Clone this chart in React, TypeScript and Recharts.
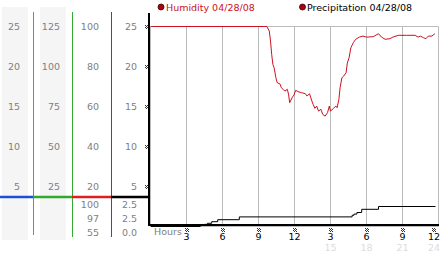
import React from 'react';
import { CartesianGrid, ComposedChart, Line, XAxis, YAxis } from 'recharts';

// humidity trace, hour of day -> %
const humHours = [
  0, 9.7, 9.9, 10.0, 10.1, 10.2, 10.3, 10.45, 10.55, 10.8, 10.9, 11.05, 11.2, 11.4, 11.5, 11.6,
  11.8, 11.95, 12.1, 12.3, 12.6, 12.9, 13.05, 13.25, 13.45, 13.55, 13.7, 13.85, 14.0, 14.2, 14.35,
  14.55, 14.75, 14.9, 15.0, 15.25, 15.45, 15.55, 15.7, 15.8, 15.95, 16.1, 16.3, 16.4, 16.55, 16.7,
  16.9, 17.1, 17.4, 17.7, 18.0, 18.55, 19.0, 19.25, 19.55, 19.95, 20.2, 20.65, 21.35, 22.05, 22.3,
  22.5, 22.75, 22.95, 23.15, 23.45, 23.7,
];
const humidity = [
  100, 100, 97.7, 92.7, 86, 81, 79.4, 74.4, 72, 71.2, 69.4, 68.6, 67.7, 68.6, 66.2, 61.9,
  64.4, 65.7, 68.1, 67.4, 66.9, 66.4, 65.2, 66.4, 62.7, 61.1, 59.1, 60.2, 57.7, 58.6, 56.1,
  55.2, 56.9, 60.2, 57.7, 59.1, 60.2, 59.4, 63.6, 69.4, 74.4, 75.2, 76.9, 81.7, 84.4, 89.4,
  91.9, 93.6, 94.7, 95.2, 94.7, 94.9, 96.4, 94.7, 93.6, 93.9, 94.7, 95.6, 95.6, 95.6, 94.7,
  95.2, 94.4, 93.9, 95.2, 95.2, 96.4,
];

// precipitation steps
const rainHours = [0, 4.15, 4.5, 4.75, 5.1, 5.6, 7.4, 16.8, 16.95, 17.2, 17.6, 19.0, 23.75];
const rain = [0, 0.12, 0.27, 0.4, 0.6, 0.85, 1.2, 1.4, 1.55, 1.75, 2.15, 2.5, 2.5];

const mainTicks = [5, 10, 15, 20, 25];
const colA = ['5', '10', '15', '20', '25'];
const colB = ['25', '50', '75', '100', '125'];
const colC = ['20', '40', '60', '80', '100'];
const colD = ['5', '10', '15', '20', '25'];
const humStats = ['100', '97', '55'];
const rainStats = ['2.5', '2.5', '0.0'];

const hourTicks = [3, 6, 9, 12, 15, 18, 21, 24];
const hourLabels = ['3', '6', '9', '12', '3', '6', '9', '12'];
const hour24Labels = ['', '', '', '', '15', '18', '21', '24'];

const humData = humHours.map((h, i) => ({ h, hum: humidity[i] }));
const rainData = rainHours.map((h, i) => ({ h, rain: rain[i] }));

const FONT = '"DejaVu Sans", Verdana, sans-serif';
const GRAY = '#808080';

// little dithered tick mark
function Mark({ x, y }: { x: number; y: number }) {
  const px = [[0, 0], [2, 0], [1, 1], [3, 1], [0, 2], [2, 2], [1, 3], [3, 3]];
  return (
    <g fill="#333">
      {px.map(([dx, dy], i) => (
        <rect key={i} x={Math.round(x) + dx - 2} y={Math.round(y) + dy - 2} width={1} height={1} />
      ))}
    </g>
  );
}

function LeftTick({ y, payload }: any) {
  const i = mainTicks.indexOf(payload.value);
  const ty = y + 3.5;
  return (
    <g fontFamily={FONT} fontSize={9.5} fill={GRAY}>
      <text x={20} y={ty} textAnchor="end">{colA[i]}</text>
      <text x={60} y={ty} textAnchor="end">{colB[i]}</text>
      <text x={99} y={ty} textAnchor="end">{colC[i]}</text>
      <text x={137} y={ty} textAnchor="end">{colD[i]}</text>
      <Mark x={147} y={y} />
    </g>
  );
}

function HourTick({ x, payload }: any) {
  const i = hourTicks.indexOf(payload.value);
  return (
    <g fontFamily={FONT}>
      <Mark x={x} y={230} />
      <text x={x} y={239.5} textAnchor="middle" fontSize={9.5} fill="#000">{hourLabels[i]}</text>
      {hour24Labels[i] && (
        <text x={x} y={250.5} textAnchor="middle" fontSize={9.5} fill="#dcdcdc">{hour24Labels[i]}</text>
      )}
    </g>
  );
}

export default function App() {
  return (
    <div style={{ position: 'absolute', left: 0, top: 0, width: 442, height: 253, background: '#fff', overflow: 'hidden' }}>
      <svg width={442} height={253} style={{ position: 'absolute', left: 0, top: 0 }}>
        <rect x={2} y={7} width={26} height={233} fill="#f5f5f5" />
        <rect x={40} y={7} width={26} height={233} fill="#f5f5f5" />
      </svg>
      <div style={{ position: 'absolute', left: 0, top: 0 }}>
        <ComposedChart width={442} height={253} margin={{ top: 26.5, right: 3.5, bottom: 0, left: 0.5 }}>
          <CartesianGrid stroke="#bbbbbb" strokeWidth={1} />
          <XAxis
            type="number"
            dataKey="h"
            domain={[0, 24]}
            ticks={hourTicks}
            tick={<HourTick />}
            tickLine={false}
            axisLine={false}
            height={26.5}
            allowDataOverflow
          />
          <YAxis
            yAxisId="main"
            type="number"
            domain={[0, 25]}
            ticks={mainTicks}
            tick={<LeftTick />}
            tickLine={false}
            axisLine={false}
            width={150}
          />
          <YAxis yAxisId="hum" type="number" domain={[0, 100]} hide />
          <Line
            yAxisId="hum"
            data={humData}
            dataKey="hum"
            type="linear"
            stroke="#cc1122"
            strokeWidth={1}
            dot={false}
            isAnimationActive={false}
          />
          <Line
            yAxisId="main"
            data={rainData}
            dataKey="rain"
            type="stepAfter"
            stroke="#000"
            strokeWidth={1}
            dot={false}
            isAnimationActive={false}
          />
        </ComposedChart>
      </div>
      <svg width={442} height={253} style={{ position: 'absolute', left: 0, top: 0 }} fontFamily={FONT}>
        {/* column separators */}
        <line x1={33.5} y1={12} x2={33.5} y2={235} stroke="#2a9fd0" />
        <line x1={72.5} y1={12} x2={72.5} y2={237} stroke="#33aa33" />
        <line x1={111.5} y1={12} x2={111.5} y2={237} stroke="#bb2222" />
        <line x1={0} y1={197} x2={33} y2={197} stroke="#1a4fd6" strokeWidth={2.5} />
        <line x1={33} y1={197} x2={72} y2={197} stroke="#2eaa2e" strokeWidth={2.5} />
        <line x1={72} y1={197} x2={111} y2={197} stroke="#dd1f1f" strokeWidth={2.5} />
        <line x1={111} y1={197} x2={149} y2={197} stroke="#000" strokeWidth={2.5} />
        {/* axes */}
        <line x1={149} y1={13} x2={149} y2={226} stroke="#000" strokeWidth={2} />
        <line x1={148} y1={225} x2={439} y2={225} stroke="#000" strokeWidth={2} />
        {/* min / max / current */}
        <g fontSize={9.5} fill={GRAY} textAnchor="end">
          {humStats.map((s, i) => (
            <text key={'h' + i} x={99} y={207.5 + i * 14}>{s}</text>
          ))}
          {rainStats.map((s, i) => (
            <text key={'r' + i} x={137} y={207.5 + i * 14}>{s}</text>
          ))}
        </g>
        <text x={154} y={235} fontSize={9.5} fill={GRAY}>Hours</text>
        {/* legend */}
        <circle cx={161} cy={7} r={3} fill="#aa0011" stroke="#440000" strokeWidth={0.8} />
        <text x={166} y={10.5} fontSize={9.5} fill="#cc1122">Humidity 04/28/08</text>
        <circle cx={302.5} cy={7} r={3} fill="#aa0011" stroke="#440000" strokeWidth={0.8} />
        <text x={307} y={10.5} fontSize={9.5} fill="#000">Precipitation 04/28/08</text>
      </svg>
    </div>
  );
}
